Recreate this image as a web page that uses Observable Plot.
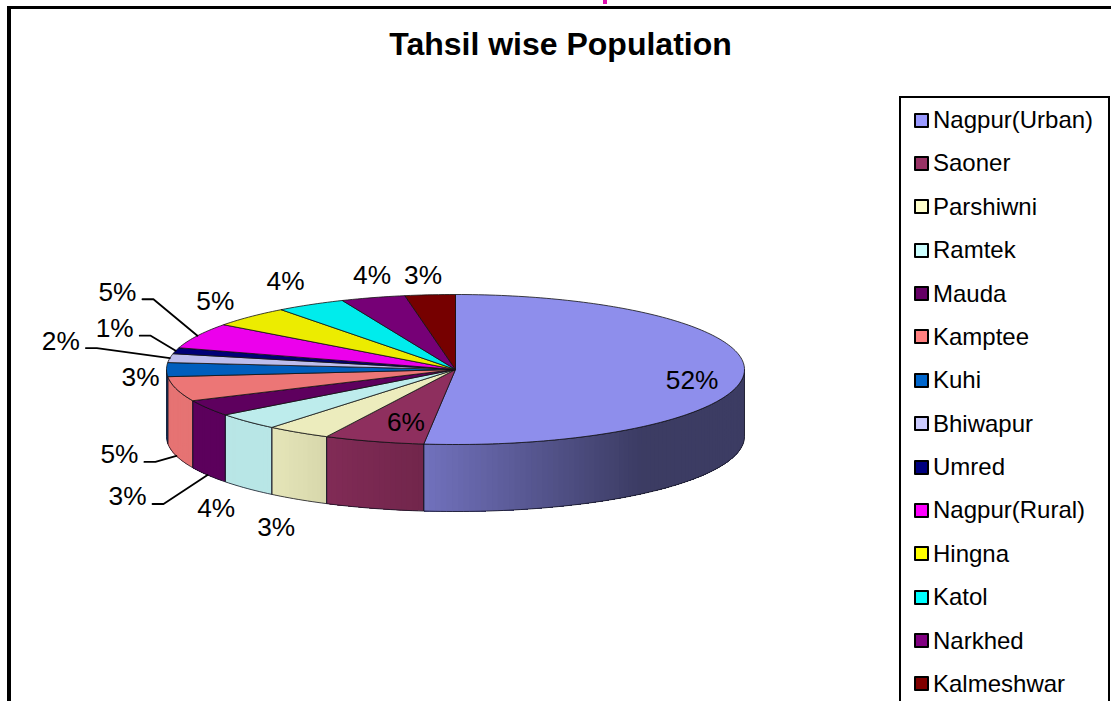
<!DOCTYPE html>
<html>
<head>
<meta charset="utf-8">
<script src="https://cdn.jsdelivr.net/npm/d3@7"></script>
<script src="https://cdn.jsdelivr.net/npm/@observablehq/plot@0.6"></script>
<style>
  html, body { margin: 0; padding: 0; background: #fff; overflow: hidden; width: 1111px; height: 701px; }
  body, text { font-family: "Liberation Sans", Arial, sans-serif; color: #000; }
  #page { position: relative; width: 1111px; height: 701px; overflow: hidden; }
  #frame { position: absolute; left: 7px; top: 6px; width: 1300px; height: 1000px; border: solid #000; border-width: 3px 4px 4px 4px; box-sizing: border-box; }
  #topmark { position: absolute; left: 603px; top: 0; width: 4px; height: 3.5px; background: #e010b0; }
  #title { position: absolute; left: 0; top: 26px; width: 1121px; text-align: center; font-size: 32px; font-weight: bold; line-height: 36px; }
  #chart { position: absolute; left: 0; top: 0; }
  #chart svg { display: block; }
  #legend { position: absolute; left: 899px; top: 96px; width: 211px; height: 800px; border: 2px solid #000; box-sizing: border-box; background: #fff; }
  .row { position: absolute; left: 13px; height: 30px; display: flex; align-items: center; font-size: 24px; white-space: nowrap; }
  .sw { width: 11px; height: 11px; border: 2px solid #000; border-radius: 1px; margin-right: 4px; flex: none; }
</style>
</head>
<body>
<div id="page">
  <div id="topmark"></div>
  <div id="frame"></div>
  <div id="title">Tahsil wise Population</div>
  <div id="chart"></div>
  <div id="legend"></div>
</div>
<script>
const tahsils = ["Nagpur(Urban)", "Saoner", "Parshiwni", "Ramtek", "Mauda", "Kamptee", "Kuhi", "Bhiwapur", "Umred", "Nagpur(Rural)", "Hingna", "Katol", "Narkhed", "Kalmeshwar"];
const shares = [51.7, 5.6, 3.6, 3.7, 3.5, 5.3, 3.0, 1.9, 1.3, 5.5, 4.5, 3.9, 3.6, 2.8];
const percentLabels = ["52%", "6%", "3%", "4%", "3%", "5%", "3%", "2%", "1%", "5%", "5%", "4%", "4%", "3%"];
const colours = ["#9999FF", "#993366", "#FFFFCC", "#CCFFFF", "#660066", "#FF8080", "#0066CC", "#CCCCFF", "#000080", "#FF00FF", "#FFFF00", "#00FFFF", "#800080", "#800000"];

// Layout only: pixel nudges of each percentage label from the rim point of its slice.
const labelNudge = [[-52, 7], [32, -19], [-22, 95], [-31, 87], [-80, 89], [-57, 66], [-26, 7.5], [-109, -17], [-61, -22], [-80, -43.5], [-35, -15], [-25, -23], [-1, -22], [-7, -19]];
const withLeader = new Set(["Mauda", "Kamptee", "Bhiwapur", "Umred", "Nagpur(Rural)"]);
const rx = 289, ry = 75;              // pixels per unit on each axis
const depth = 67 / ry;                // wall height, in y units
const topShade = 0.925;
const wallShade = d3.scaleLinear([-1, -0.63, -0.44, -0.107, 0.64, 1], [0.9, 0.9, 0.84, 0.74, 0.39, 0.39]);

const arcs = d3.pie().sort(null).value((d, i) => shares[i]).startAngle(0).endAngle(2 * Math.PI)(tahsils);
const px = t => Math.sin(t), py = t => Math.cos(t);
const sampleAngles = (a, b, step) => {
  const n = Math.max(1, Math.ceil((b - a) / step));
  return d3.range(n + 1).map(k => a + (b - a) * k / n);
};
const shaded = (c, f) => { const r = d3.rgb(c); return d3.rgb(r.r * f, r.g * f, r.b * f).formatRgb(); };

const topRows = [], wallStrips = [], wallOutline = [], labelRows = [], leaderRows = [];
const front0 = Math.PI / 2, front1 = 3 * Math.PI / 2;

arcs.forEach((arc, i) => {
  const name = tahsils[i], fill = shaded(colours[i], topShade);
  topRows.push({z: name, x: 0, y: 0, fill});
  sampleAngles(arc.startAngle, arc.endAngle, 0.02).forEach(t => topRows.push({z: name, x: px(t), y: py(t), fill}));
  topRows.push({z: name, x: 0, y: 0, fill});

  // Wall on the front half of the disc. Each strip runs to the end of the slice and
  // the next one paints over it, so no seams show between strips.
  const a = Math.max(arc.startAngle, front0), b = Math.min(arc.endAngle, front1);
  if (b > a) {
    const ts = sampleAngles(a, b, 0.02);
    d3.pairs(ts).forEach(([t0, t1], k) => {
      const c = shaded(colours[i], wallShade((px(t0) + px(t1)) / 2));
      const z = name + "-" + String(k).padStart(4, "0");
      const span = ts.slice(k);
      span.forEach(t => wallStrips.push({z, x: px(t), y: py(t), c}));
      span.slice().reverse().forEach(t => wallStrips.push({z, x: px(t), y: py(t) - depth, c}));
    });
    ts.forEach(t => wallOutline.push({z: name, x: px(t), y: py(t)}));
    ts.slice().reverse().forEach(t => wallOutline.push({z: name, x: px(t), y: py(t) - depth}));
    wallOutline.push({z: name, x: px(a), y: py(a)});
  }

  const mid = (arc.startAngle + arc.endAngle) / 2;
  const [nx, ny] = labelNudge[i];
  const lx = px(mid) + nx / rx, ly = py(mid) - ny / ry;
  labelRows.push({x: lx, y: ly, text: percentLabels[i]});
  if (withLeader.has(name)) {
    const wall = mid > front0 && mid < front1 ? depth : 0;
    const endY = py(mid) - wall;
    const sx = lx + 25 / rx, ex = lx + 36 / rx, sy = ly - 7 / ry;
    leaderRows.push({z: name, x: sx, y: sy}, {z: name, x: ex, y: sy}, {z: name, x: px(mid), y: endY});
  }
});

const chart = Plot.plot({
  width: 1111, height: 701,
  marginTop: 0, marginRight: 0, marginBottom: 0, marginLeft: 0,
  x: {domain: [-1, 1], range: [166, 744], axis: null},
  y: {domain: [-1, 1], range: [444, 294], axis: null},
  color: {type: "identity"},
  style: {background: "transparent", fontFamily: "Liberation Sans, Arial, sans-serif"},
  marks: [
    Plot.line(wallStrips, {x: "x", y: "y", z: "z", fill: "c", stroke: "none", curve: "linear"}),
    Plot.line(wallOutline, {x: "x", y: "y", z: "z", stroke: "#151525", strokeWidth: 0.8, curve: "linear"}),
    Plot.line(topRows, {x: "x", y: "y", z: "z", fill: "fill", stroke: "#111", strokeWidth: 0.8, curve: "linear"}),
    Plot.line(leaderRows, {x: "x", y: "y", z: "z", stroke: "#000", strokeWidth: 1.8, curve: "linear"}),
    Plot.text(labelRows, {x: "x", y: "y", text: "text", fontSize: 26.3, fill: "#000", textAnchor: "middle", lineAnchor: "middle"})
  ]
});
document.getElementById("chart").append(chart);

const legend = document.getElementById("legend");
tahsils.forEach((name, i) => {
  const row = document.createElement("div");
  row.className = "row";
  row.style.top = (7 + i * 43.38) + "px";
  const sw = document.createElement("span");
  sw.className = "sw";
  sw.style.background = colours[i];
  const label = document.createElement("span");
  label.textContent = name;
  row.append(sw, label);
  legend.append(row);
});
</script>
</body>
</html>
